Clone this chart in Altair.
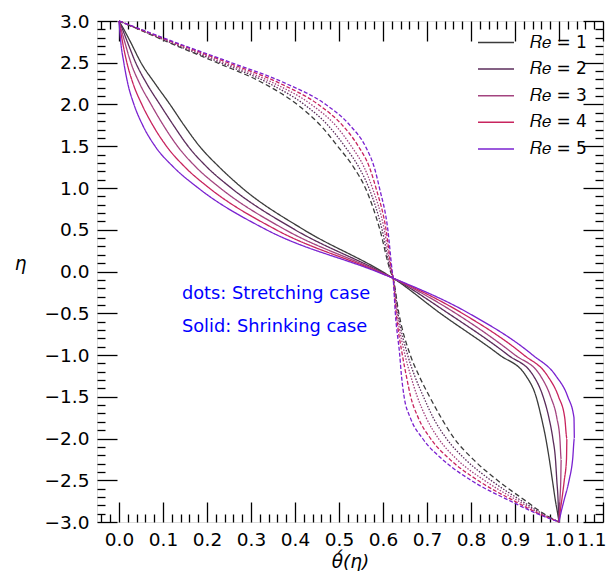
import altair as alt
import pandas as pd

# ---- data ----
eta = [3.0, 2.9, 2.75, 2.5, 2.25, 2.0, 1.75, 1.5, 1.25, 1.0, 0.5, 0.0, -0.08,
       -0.5, -1.0, -1.25, -1.5, -1.75, -2.0, -2.25, -2.5, -2.75, -2.9, -3.0]

re_labels = ["𝑅𝑒 = 1", "𝑅𝑒 = 2", "𝑅𝑒 = 3", "𝑅𝑒 = 4", "𝑅𝑒 = 5"]
colors = ["#3b3b3b", "#5b2c5b", "#a3437f", "#c8245e", "#7a22d0"]

# Shrinking case (solid lines): theta' at each eta
shrink_1 = [0, 0.011, 0.026, 0.05, 0.082, 0.116, 0.148, 0.183, 0.228, 0.28, 0.42, 0.598, 0.623,
            0.73, 0.865, 0.925, 0.948, 0.960, 0.970, 0.978, 0.985, 0.992, 0.997, 1.0]
shrink_2 = [0, 0.008, 0.019, 0.038, 0.063, 0.093, 0.124, 0.157, 0.2, 0.255, 0.40, 0.594, 0.623,
            0.748, 0.884, 0.942, 0.964, 0.977, 0.986, 0.992, 0.995, 0.998, 0.999, 1.0]
shrink_3 = [0, 0.005, 0.013, 0.027, 0.047, 0.073, 0.101, 0.133, 0.175, 0.23, 0.378, 0.591, 0.623,
            0.765, 0.90, 0.958, 0.981, 0.995, 1.002, 1.005, 1.004, 1.002, 1.001, 1.0]
shrink_4 = [0, 0.003, 0.008, 0.018, 0.032, 0.052, 0.077, 0.108, 0.15, 0.205, 0.357, 0.588, 0.623,
            0.78, 0.92, 0.974, 0.999, 1.013, 1.018, 1.017, 1.012, 1.006, 1.002, 1.0]
shrink_5 = [0, 0.0015, 0.004, 0.011, 0.02, 0.034, 0.054, 0.082, 0.124, 0.18, 0.335, 0.585, 0.623,
            0.795, 0.94, 0.993, 1.02, 1.034, 1.035, 1.031, 1.023, 1.011, 1.004, 1.0]

# Stretching case (dashed / dotted lines)
stretch_1 = [0, 0.045, 0.11, 0.223, 0.33, 0.405, 0.458, 0.497, 0.533, 0.56, 0.593, 0.617, 0.623,
             0.636, 0.662, 0.682, 0.706, 0.732, 0.762, 0.805, 0.86, 0.925, 0.965, 1.0]
stretch_2 = [0, 0.046, 0.113, 0.231, 0.342, 0.421, 0.475, 0.513, 0.545, 0.568, 0.598, 0.618, 0.623,
             0.634, 0.656, 0.672, 0.692, 0.714, 0.744, 0.787, 0.845, 0.916, 0.962, 1.0]
stretch_3 = [0, 0.047, 0.117, 0.239, 0.354, 0.437, 0.492, 0.528, 0.557, 0.576, 0.603, 0.619, 0.623,
             0.632, 0.650, 0.663, 0.678, 0.698, 0.726, 0.768, 0.83, 0.908, 0.958, 1.0]
stretch_4 = [0, 0.048, 0.121, 0.248, 0.367, 0.453, 0.508, 0.544, 0.569, 0.584, 0.607, 0.620, 0.623,
             0.630, 0.644, 0.653, 0.663, 0.68, 0.708, 0.752, 0.815, 0.899, 0.954, 1.0]
stretch_5 = [0, 0.05, 0.125, 0.256, 0.38, 0.47, 0.525, 0.56, 0.58, 0.592, 0.611, 0.621, 0.623,
             0.628, 0.638, 0.642, 0.648, 0.662, 0.69, 0.735, 0.80, 0.89, 0.95, 1.0]

shrink = [shrink_1, shrink_2, shrink_3, shrink_4, shrink_5]
stretch = [stretch_1, stretch_2, stretch_3, stretch_4, stretch_5]

dash_keys = ["solid", "s1", "s2", "s3", "s4", "s5"]
dash_range = [[1, 0], [5, 3], [1.5, 1.5], [1.5, 1.5], [4, 2], [4, 2]]

x_major = [round(0.1 * i, 1) for i in range(0, 12)]
x_minor = [round(-0.04 + 0.02 * i, 2) for i in range(0, 58) if (i - 2) % 5 != 0]
y_major = [round(-3 + 0.5 * i, 1) for i in range(0, 13)]
y_minor = [round(-3 + 0.1 * i, 1) for i in range(0, 61) if i % 5 != 0]

ann_x = [0.143, 0.143]
ann_y = [-0.27, -0.66]
ann_text = ["dots: Stretching case", "Solid: Shrinking case"]

# ---- tables ----
rows = []
for k, lab in enumerate(re_labels):
    for i, e in enumerate(eta):
        rows.append({"eta": e, "theta": shrink[k][i], "Re": lab, "dash": "solid",
                     "series": f"shrink{k}", "idx": i})
        rows.append({"eta": e, "theta": stretch[k][i], "Re": lab, "dash": f"s{k+1}",
                     "series": f"stretch{k}", "idx": i})
df = pd.DataFrame(rows)
ann = pd.DataFrame({"x": ann_x, "y": ann_y, "text": ann_text})

W, H = 506, 501
FONT = "DejaVu Sans"
xs = alt.Scale(domain=[-0.05, 1.1], nice=False, zero=False)
ys = alt.Scale(domain=[-3, 3], nice=False, zero=False)

lines = alt.Chart(df).mark_line(strokeWidth=1.3, interpolate="monotone", orient="horizontal").encode(
    x=alt.X("theta:Q", scale=xs, axis=alt.Axis(
        values=x_major, format=".1f", ticks=False, grid=False, domain=False,
        labelFontSize=18.5, labelFont=FONT, labelColor="black", labelPadding=8,
        labelFlush=True, labelFlushOffset=3, labelOverlap=False,
        title="θ́(η)", titleFont=FONT, titleFontStyle="italic", titleFontSize=18.5,
        titleFontWeight="normal", titleColor="black", titleY=45, titleBaseline="alphabetic")),
    y=alt.Y("eta:Q", scale=ys, axis=alt.Axis(
        values=y_major, format=".1f", ticks=False, grid=False, domain=False,
        labelFontSize=18.5, labelFont=FONT, labelColor="black", labelPadding=8,
        labelFlush=False, labelOverlap=False,
        title="η", titleFont=FONT, titleFontStyle="italic", titleFontSize=18.5,
        titleFontWeight="normal", titleColor="black", titleAngle=0,
        titleX=-77, titleY=H / 2 - 8, titleBaseline="middle", titleAlign="center")),
    color=alt.Color("Re:N", scale=alt.Scale(domain=re_labels, range=colors),
                    legend=alt.Legend(title=None, orient="none", legendX=380, legendY=11.5,
                                      symbolType="stroke", symbolSize=1296,
                                      symbolStrokeWidth=1.5, labelFontSize=17,
                                      labelFont=FONT, labelColor="black", labelOffset=15,
                                      clipHeight=20, rowPadding=6.6, padding=0)),
    strokeDash=alt.StrokeDash("dash:N", scale=alt.Scale(domain=dash_keys, range=dash_range),
                              legend=None),
    detail="series:N",
    order="idx:Q",
)

texts = alt.Chart(ann).mark_text(align="left", baseline="middle", fontSize=17.8,
                                 font=FONT, color="#0000ff").encode(
    x=alt.X("x:Q", scale=xs, axis=None),
    y=alt.Y("y:Q", scale=ys, axis=None),
    text="text:N",
)


def tick_axis(orient, offset, values, size):
    return alt.Axis(orient=orient, offset=offset, values=values, tickSize=size,
                    tickWidth=1.3, tickColor="black", labels=False, domain=False,
                    grid=False, title=None)


def tick_layer(xa, ya):
    return alt.Chart(df).mark_point(opacity=0).encode(
        x=alt.X("theta:Q", scale=xs, axis=xa),
        y=alt.Y("eta:Q", scale=ys, axis=ya),
    )


t1 = tick_layer(tick_axis("top", -H, x_major, 20), tick_axis("right", -W, y_major, 20))
t2 = tick_layer(tick_axis("top", -H, x_minor, 8), tick_axis("right", -W, y_minor, 8))
t3 = tick_layer(tick_axis("bottom", -H, x_major, 20), tick_axis("left", -W, y_major, 20))
t4 = tick_layer(tick_axis("bottom", -H, x_minor, 8), tick_axis("left", -W, y_minor, 8))

chart = alt.layer(lines, texts, t1, t2, t3, t4).resolve_axis(
    x="independent", y="independent"
).properties(
    width=W, height=H,
    autosize=alt.AutoSizeParams(type="none"),
    padding={"left": 89, "top": 13, "right": 4, "bottom": 49},
).configure_view(stroke="black", strokeWidth=1.5).configure(background="white")

chart.save("out.html", embed_options={"renderer": "svg", "actions": False})
